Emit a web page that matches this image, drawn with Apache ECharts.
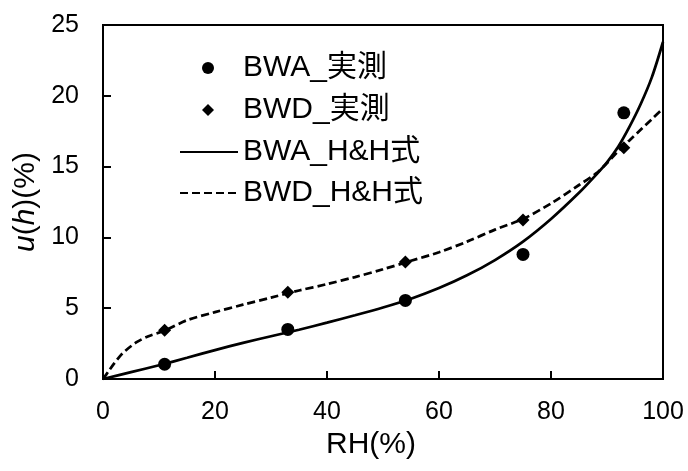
<!DOCTYPE html>
<html><head><meta charset="utf-8">
<script src="https://cdn.jsdelivr.net/npm/echarts@6/dist/echarts.min.js"></script>
<style>html,body{margin:0;padding:0;background:#fff}#c{width:688px;height:471px}</style>
</head><body><div id="c"></div>
<script>
// ---- data ----
const seriesNames = ['BWA_実測', 'BWD_実測', 'BWA_H&H式', 'BWD_H&H式'];
const measRH = [11, 33, 54, 75, 93];
const bwaMeas = [1.04, 3.5, 5.55, 8.8, 18.8];
const bwdMeas = [3.45, 6.12, 8.26, 11.23, 16.33];
const bwaFitRH = [0, 5, 10, 15, 20, 25, 30, 35, 40, 45, 50, 55, 60, 65, 70, 75, 80, 85, 88, 90, 92, 94, 96, 98, 100];
const bwaFit   = [0, 0.48, 0.97, 1.5, 2.04, 2.55, 3.02, 3.48, 3.98, 4.5, 5.05, 5.67, 6.42, 7.32, 8.4, 9.7, 11.3, 13.15, 14.4, 15.3, 16.4, 17.8, 19.4, 21.3, 23.8];
const bwdFitRH = [0, 1, 2, 3, 4, 6, 8, 11, 15, 20, 25, 30, 35, 40, 45, 50, 55, 60, 65, 70, 75, 80, 85, 88, 90, 92, 94, 96, 98, 100];
const bwdFit   = [0, 0.55, 1.1, 1.6, 2.0, 2.6, 3.0, 3.42, 4.15, 4.72, 5.25, 5.75, 6.25, 6.7, 7.2, 7.75, 8.35, 8.95, 9.7, 10.55, 11.3, 12.4, 13.7, 14.5, 15.25, 16.1, 16.85, 17.6, 18.35, 19.1];
const xTicks = [0, 20, 40, 60, 80, 100];
const yTicks = [0, 5, 10, 15, 20, 25];

const pairs = (xs, ys) => xs.map((x, i) => [x, ys[i]]);
const FONT = "'Liberation Sans', Arial, 'Noto Sans CJK JP', sans-serif";
const legendText = { fontSize: 30, color: '#000', fontFamily: FONT };
const legendRowTops = [53, 95, 137, 178];
const legends = seriesNames.map((name, i) => {
  const isScatter = i < 2;
  return {
    orient: 'vertical', top: legendRowTops[i], padding: 0,
    left: isScatter ? 202 : 179,
    itemWidth: isScatter ? 12 : 58, itemHeight: 12,
    symbolKeepAspect: true,
    data: [isScatter ? { name: name, icon: i === 0 ? 'circle' : 'diamond' }
                     : { name: name, itemStyle: { opacity: 0, color: 'rgba(0,0,0,0)', borderWidth: 0, borderColor: 'rgba(0,0,0,0)' } }],
    textStyle: Object.assign({}, legendText, isScatter ? { padding: [0, 0, 0, 24] } : {})
  };
});

const chart = echarts.init(document.getElementById('c'));
chart.setOption({
  animation: false,
  backgroundColor: '#fff',
  grid: { left: 103, right: 25, top: 25, bottom: 92, show: true, borderColor: '#000', borderWidth: 2, backgroundColor: 'transparent' },
  legend: legends,
  xAxis: {
    type: 'value', min: xTicks[0], max: xTicks[xTicks.length - 1], interval: 20,
    name: 'RH(%)', nameLocation: 'middle', nameGap: 49,
    nameTextStyle: { fontSize: 30, color: '#000', fontFamily: FONT, padding: [0, 24, 0, 0] },
    axisLine: { lineStyle: { color: '#000', width: 2 } },
    axisTick: { inside: true, length: 8, lineStyle: { color: '#000', width: 2 } },
    axisLabel: { fontSize: 25, color: '#000', fontFamily: FONT, margin: 21 },
    splitLine: { show: false }
  },
  yAxis: {
    type: 'value', min: yTicks[0], max: yTicks[yTicks.length - 1], interval: 5,
    name: '{i|u}({i|h})(%)', nameLocation: 'middle', nameGap: 57, nameRotate: 90,
    nameTextStyle: { fontSize: 30, color: '#000', fontFamily: FONT,
      rich: { i: { fontStyle: 'italic', fontSize: 30, color: '#000', fontFamily: FONT } } },
    axisLine: { show: true, lineStyle: { color: '#000', width: 2 } },
    axisTick: { show: true, inside: true, length: 8, lineStyle: { color: '#000', width: 2 } },
    axisLabel: { fontSize: 25, color: '#000', fontFamily: FONT, margin: 24 },
    splitLine: { show: false }
  },
  series: [
    { name: seriesNames[2], type: 'line', data: pairs(bwaFitRH, bwaFit), symbol: 'none', smooth: 0.3,
      lineStyle: { color: '#000', width: 2.75, type: 'solid' }, itemStyle: { color: '#000' }, z: 2 },
    { name: seriesNames[3], type: 'line', data: pairs(bwdFitRH, bwdFit), symbol: 'none', smooth: 0.3,
      lineStyle: { color: '#000', width: 2.75, type: [8, 4] }, itemStyle: { color: '#000' }, z: 2 },
    { name: seriesNames[0], type: 'scatter', data: pairs(measRH, bwaMeas), symbol: 'circle', symbolSize: 13,
      itemStyle: { color: '#000', opacity: 1 }, z: 3 },
    { name: seriesNames[1], type: 'scatter', data: pairs(measRH, bwdMeas), symbol: 'diamond', symbolSize: 13,
      itemStyle: { color: '#000', opacity: 1 }, z: 3 }
  ]
});
</script></body></html>
